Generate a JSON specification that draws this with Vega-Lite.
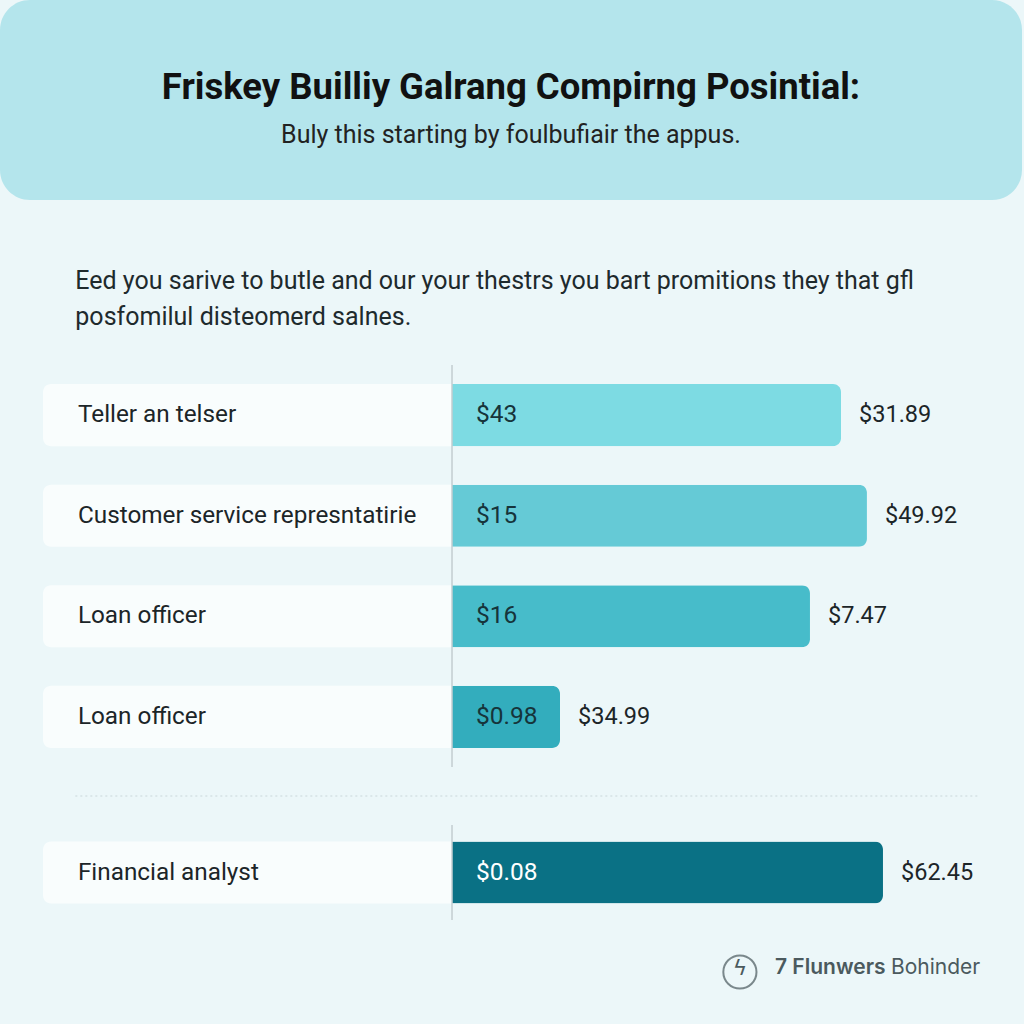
{
  "$schema": "https://vega.github.io/schema/vega-lite/v6.json",
  "background": "#ecf7f9",
  "padding": 0,
  "spacing": 0,
  "bounds": "flush",
  "config": {"view": {"stroke": null}, "font": "Roboto"},
  "vconcat": [
    {
      "width": 1022,
      "height": 200,
      "view": {"fill": "#b4e5ec", "cornerRadius": 30, "stroke": null},
      "data": {"values": [{"title": "Friskey Builliy Galrang Compirng Posintial:", "subtitle": "Buly this starting by foulbufiair the appus."}]},
      "layer": [
        {"mark": {"type": "text", "font": "Roboto", "fontSize": 36.5, "fontWeight": "bold", "color": "#111111", "align": "center", "baseline": "middle", "dy": -12}, "encoding": {"text": {"field": "title"}}},
        {"mark": {"type": "text", "font": "Roboto", "fontSize": 25, "color": "#222222", "align": "center", "baseline": "middle", "dy": 35}, "encoding": {"text": {"field": "subtitle"}}}
      ]
    },
    {
      "width": 1024,
      "height": 165,
      "data": {"values": [{"intro": "Eed you sarive to butle and our your thestrs you bart promitions they that gfl\nposfomilul disteomerd salnes."}]},
      "mark": {"type": "text", "font": "Roboto", "fontSize": 25, "color": "#1e2a2d", "align": "left", "baseline": "middle", "lineBreak": "\n", "lineHeight": 36, "dy": -2},
      "encoding": {
        "text": {"field": "intro"},
        "x": {"datum": -43.7, "type": "quantitative", "scale": {"domain": [-52.44, 66.36], "nice": false, "zero": false}, "axis": null}
      }
    },
    {
      "width": 1024,
      "height": 402,
      "data": {"values": [
        {"id": "r1", "role": "Teller an telser", "inner": "$43", "outer": "$31.89", "value": 45.13},
        {"id": "r2", "role": "Customer service represntatirie", "inner": "$15", "outer": "$49.92", "value": 48.14},
        {"id": "r3", "role": "Loan officer", "inner": "$16", "outer": "$7.47", "value": 41.53},
        {"id": "r4", "role": "Loan officer", "inner": "$0.98", "outer": "$34.99", "value": 12.53}
      ]},
      "layer": [
        {
          "mark": {"type": "bar", "color": "#f9fdfd", "cornerRadiusTopLeft": 8, "cornerRadiusBottomLeft": 8},
          "encoding": {
            "y": {"field": "id", "type": "nominal", "sort": null, "axis": null, "scale": {"paddingInner": 0.383, "paddingOuter": 0.19}},
            "x": {"datum": -47.45, "type": "quantitative", "scale": {"domain": [-52.44, 66.36], "nice": false, "zero": false}, "axis": null},
            "x2": {"datum": 0}
          }
        },
        {
          "mark": {"type": "bar", "cornerRadiusEnd": 8},
          "encoding": {
            "y": {"field": "id", "type": "nominal", "sort": null, "axis": null},
            "x": {"field": "value", "type": "quantitative", "axis": null},
            "color": {"field": "id", "type": "nominal", "legend": null, "scale": {"domain": ["r1", "r2", "r3", "r4"], "range": ["#7ddbe3", "#65cad6", "#47bcca", "#33adbd"]}}
          }
        },
        {
          "data": {"values": [{}]},
          "mark": {"type": "rule", "color": "#c3cdd0", "strokeWidth": 1.5},
          "encoding": {"x": {"datum": 0, "type": "quantitative"}}
        },
        {
          "mark": {"type": "text", "font": "Roboto", "fontSize": 24.3, "color": "#1c2528", "align": "left", "baseline": "middle"},
          "encoding": {
            "y": {"field": "id", "type": "nominal", "sort": null, "axis": null},
            "x": {"datum": -43.4, "type": "quantitative"},
            "text": {"field": "role"}
          }
        },
        {
          "mark": {"type": "text", "font": "Roboto", "fontSize": 24.5, "color": "#16343a", "align": "left", "baseline": "middle", "dx": 24},
          "encoding": {
            "y": {"field": "id", "type": "nominal", "sort": null, "axis": null},
            "x": {"datum": 0, "type": "quantitative"},
            "text": {"field": "inner"}
          }
        },
        {
          "mark": {"type": "text", "font": "Roboto", "fontSize": 23.5, "color": "#1c2528", "align": "left", "baseline": "middle", "dx": 18},
          "encoding": {
            "y": {"field": "id", "type": "nominal", "sort": null, "axis": null},
            "x": {"field": "value", "type": "quantitative"},
            "text": {"field": "outer"}
          }
        }
      ]
    },
    {
      "width": 1024,
      "height": 58,
      "data": {"values": [{}]},
      "mark": {"type": "rule", "color": "#c9d7da", "strokeWidth": 1.2, "strokeDash": [2, 3]},
      "encoding": {
        "x": {"datum": -43.7, "type": "quantitative", "scale": {"domain": [-52.44, 66.36], "nice": false, "zero": false}, "axis": null},
        "x2": {"datum": 61.25}
      }
    },
    {
      "width": 1024,
      "height": 95,
      "data": {"values": [
        {"id": "r5", "role": "Financial analyst", "inner": "$0.08", "outer": "$62.45", "value": 50.0}
      ]},
      "layer": [
        {
          "mark": {"type": "bar", "color": "#f9fdfd", "cornerRadiusTopLeft": 8, "cornerRadiusBottomLeft": 8},
          "encoding": {
            "y": {"field": "id", "type": "nominal", "axis": null, "scale": {"paddingInner": 0.38, "paddingOuter": 0.165}},
            "x": {"datum": -47.45, "type": "quantitative", "scale": {"domain": [-52.44, 66.36], "nice": false, "zero": false}, "axis": null},
            "x2": {"datum": 0}
          }
        },
        {
          "mark": {"type": "bar", "cornerRadiusEnd": 8, "color": "#0a7185"},
          "encoding": {
            "y": {"field": "id", "type": "nominal", "axis": null},
            "x": {"field": "value", "type": "quantitative", "axis": null}
          }
        },
        {
          "data": {"values": [{}]},
          "mark": {"type": "rule", "color": "#c3cdd0", "strokeWidth": 1.5},
          "encoding": {"x": {"datum": 0, "type": "quantitative"}}
        },
        {
          "mark": {"type": "text", "font": "Roboto", "fontSize": 24.3, "color": "#1c2528", "align": "left", "baseline": "middle"},
          "encoding": {
            "y": {"field": "id", "type": "nominal", "axis": null},
            "x": {"datum": -43.4, "type": "quantitative"},
            "text": {"field": "role"}
          }
        },
        {
          "mark": {"type": "text", "font": "Roboto", "fontSize": 24.5, "color": "#ffffff", "align": "left", "baseline": "middle", "dx": 24},
          "encoding": {
            "y": {"field": "id", "type": "nominal", "axis": null},
            "x": {"datum": 0, "type": "quantitative"},
            "text": {"field": "inner"}
          }
        },
        {
          "mark": {"type": "text", "font": "Roboto", "fontSize": 23.5, "color": "#1c2528", "align": "left", "baseline": "middle", "dx": 18},
          "encoding": {
            "y": {"field": "id", "type": "nominal", "axis": null},
            "x": {"field": "value", "type": "quantitative"},
            "text": {"field": "outer"}
          }
        }
      ]
    },
    {
      "width": 1024,
      "height": 104,
      "data": {"values": [{"brand": "7 Flunwers", "brand2": "Bohinder", "icon": "ϟ"}]},
      "layer": [
        {
          "mark": {"type": "point", "shape": "circle", "filled": false, "size": 1100, "strokeWidth": 2, "color": "#4b5a5e", "dy": -4},
          "encoding": {"x": {"datum": 33.4, "type": "quantitative", "scale": {"domain": [-52.44, 66.36], "nice": false, "zero": false}, "axis": null}}
        },
        {
          "mark": {"type": "text", "font": "DejaVu Sans", "fontSize": 22, "color": "#4b5a5e", "align": "center", "baseline": "middle", "dy": -4},
          "encoding": {"x": {"datum": 33.4, "type": "quantitative"}, "text": {"field": "icon"}}
        },
        {
          "mark": {"type": "text", "font": "Inter", "fontSize": 21, "fontWeight": 600, "color": "#4b5a5e", "align": "left", "baseline": "middle", "dy": -4},
          "encoding": {"x": {"datum": 37.47, "type": "quantitative"}, "text": {"field": "brand"}}
        },
        {
          "mark": {"type": "text", "font": "Inter", "fontSize": 21, "color": "#4b5a5e", "align": "left", "baseline": "middle", "dy": -4},
          "encoding": {"x": {"datum": 50.93, "type": "quantitative"}, "text": {"field": "brand2"}}
        }
      ]
    }
  ]
}
